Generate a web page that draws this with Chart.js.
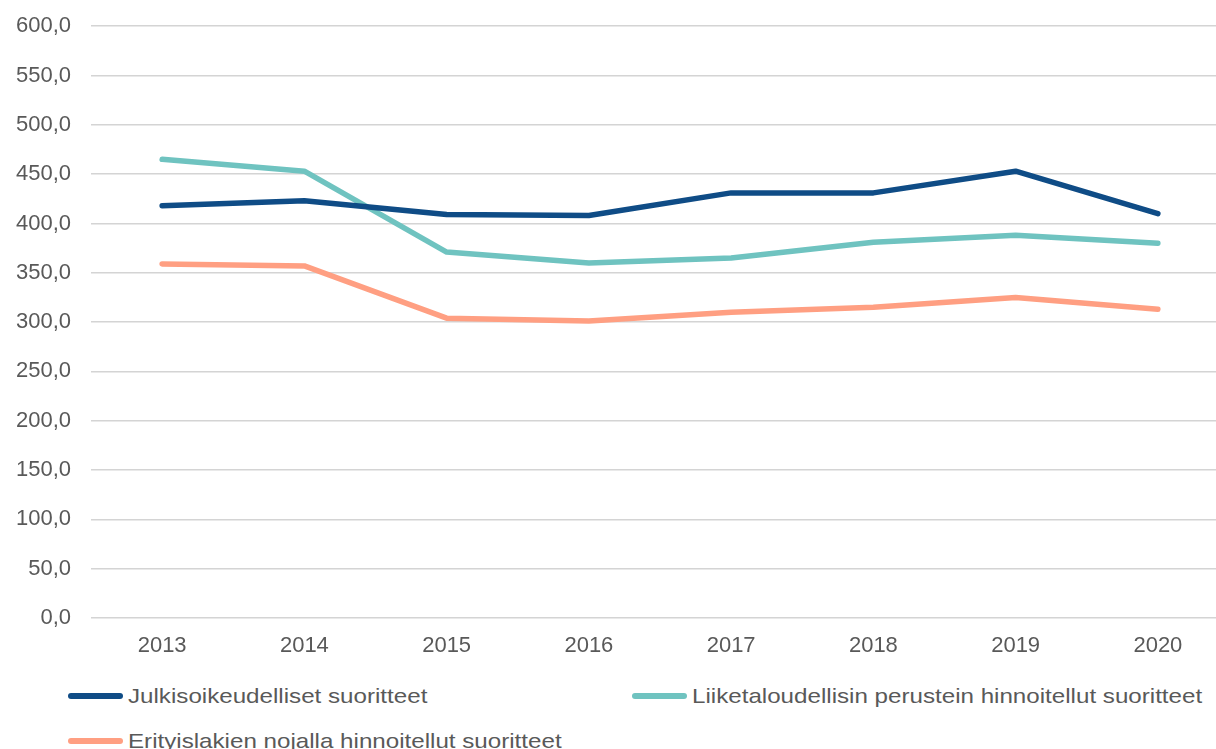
<!DOCTYPE html>
<html>
<head>
<meta charset="utf-8">
<script src="https://cdn.jsdelivr.net/npm/chart.js@4"></script>
<style>
  html, body { margin: 0; padding: 0; background: #fff; overflow: hidden; width: 1216px; height: 749px; }
  #wrap { position: absolute; left: 0; top: -7px; width: 1240px; height: 677px; }
  #legend { position: absolute; left: 0; top: 670px; width: 1216px; font-family: "Liberation Sans", Arial, sans-serif; font-size: 21px; color: #595959; }
  .item { position: absolute; display: flex; align-items: center; white-space: nowrap; }
  .swatch { width: 55px; height: 6px; border-radius: 3px; margin-right: 5px; }
  .txt { display: inline-block; transform: scaleX(1.15); transform-origin: left center; }
</style>
</head>
<body>
<div id="wrap"><canvas id="lineChart" width="1240" height="677"></canvas></div>
<div id="legend"></div>
<script>
const years = ['2013', '2014', '2015', '2016', '2017', '2018', '2019', '2020'];
const julkisoikeudelliset = [418, 423, 409, 408, 431, 431, 453, 410];
const liiketaloudelliset = [465, 453, 371, 360, 365, 381, 388, 380];
const erityislakien = [359, 357, 304, 301, 310, 315, 325, 313];
const seriesNames = [
    'Julkisoikeudelliset suoritteet',
    'Liiketaloudellisin perustein hinnoitellut suoritteet',
    'Erityislakien nojalla hinnoitellut suoritteet'
];
const seriesColors = ['#0f4c86', '#6fc3c0', '#ff9f82'];

function fmt(v) {
    return v.toFixed(1).replace('.', ',');
}

const ctx = document.getElementById('lineChart').getContext('2d');
const chart = new Chart(ctx, {
    type: 'line',
    data: {
        labels: years,
        datasets: [julkisoikeudelliset, liiketaloudelliset, erityislakien].map((d, i) => ({
            label: seriesNames[i],
            data: d,
            borderColor: seriesColors[i],
            backgroundColor: seriesColors[i],
            borderWidth: 5.5,
            borderCapStyle: 'round',
            borderJoinStyle: 'round',
            pointRadius: 0,
            tension: 0
        }))
    },
    options: {
        responsive: false,
        animation: false,
        layout: { padding: { top: 6, right: 11, left: 0, bottom: 0 } },
        plugins: {
            legend: { display: false },
            tooltip: { enabled: false }
        },
        scales: {
            x: {
                offset: true,
                grid: { display: false, drawTicks: false },
                border: { display: false },
                ticks: {
                    color: '#595959',
                    padding: 15,
                    font: { family: '"Liberation Sans", Arial, sans-serif', size: 22 }
                },
                afterFit: function (scale) { scale.height = 52; }
            },
            y: {
                min: 0,
                max: 600,
                grid: { color: '#d4d4d4', lineWidth: 1.6, drawTicks: false },
                border: { display: false },
                ticks: {
                    stepSize: 50,
                    color: '#595959',
                    padding: 20,
                    font: { family: '"Liberation Sans", Arial, sans-serif', size: 22 },
                    callback: function (v) { return fmt(v); }
                },
                afterFit: function (scale) { scale.width = 91; }
            }
        }
    }
});

// legend built from the chart datasets
const legendPos = [
    { left: 68, top: 14 },
    { left: 632, top: 14 },
    { left: 68, top: 59 }
];
const legend = document.getElementById('legend');
chart.data.datasets.forEach((ds, i) => {
    const item = document.createElement('div');
    item.className = 'item';
    item.style.left = legendPos[i].left + 'px';
    item.style.top = legendPos[i].top + 'px';
    item.innerHTML = '<span class="swatch" style="background:' + ds.borderColor + '"></span><span class="txt">' + ds.label + '</span>';
    legend.appendChild(item);
});
</script>
</body>
</html>
